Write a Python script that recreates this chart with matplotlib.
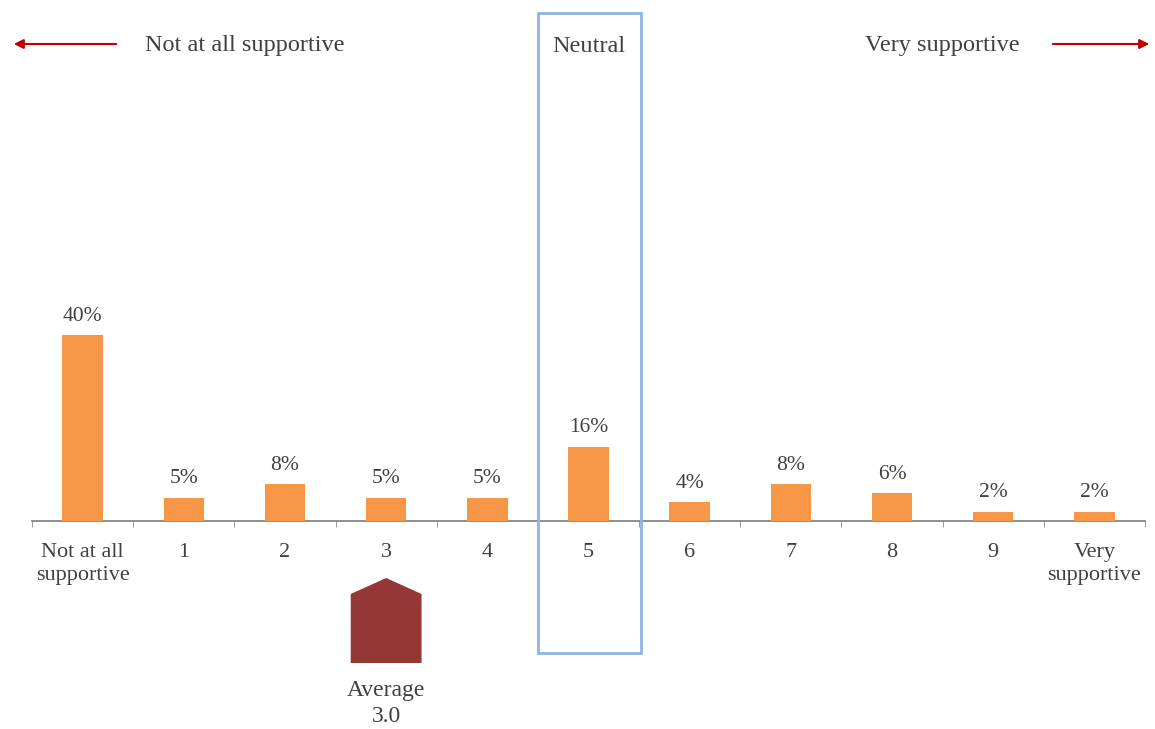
import matplotlib
matplotlib.use("Agg")
import matplotlib.pyplot as plt
from matplotlib.patches import Polygon, Rectangle

categories = ["Not at all\nsupportive", "1", "2", "3", "4", "5", "6", "7", "8", "9", "Very\nsupportive"]
values = [40, 5, 8, 5, 5, 16, 4, 8, 6, 2, 2]
value_labels = ["40%", "5%", "8%", "5%", "5%", "16%", "4%", "8%", "6%", "2%", "2%"]
average = 3.0
neutral_index = 5
header_left = "Not at all supportive"
header_mid = "Neutral"
header_right = "Very supportive"

plt.rcParams['font.family'] = ['Liberation Serif', 'DejaVu Serif']
TXT = '#404040'

fig = plt.figure(figsize=(11.55, 7.29), dpi=100)
W, H = 1155, 729
ax = fig.add_axes([32 / W, 0, 1113 / W, 1])
ppu = 4.65
ax.set_xlim(-0.5, 10.5)
ax.set_ylim(-(H - 521) / ppu, 521 / ppu)

x = list(range(len(categories)))
ax.bar(x, values, width=0.4, color='#f79646', zorder=3)
for xi, v, lab in zip(x, values, value_labels):
    ax.text(xi, v + 2.0, lab, ha='center', va='bottom', fontsize=15.5, color=TXT)

for s in ['top', 'right', 'left']:
    ax.spines[s].set_visible(False)
ax.spines['bottom'].set_position(('data', 0))
ax.spines['bottom'].set_color('#868686')
ax.spines['bottom'].set_linewidth(1.3)
ax.set_yticks([])
ax.set_xticks(x)
ax.set_xticklabels(categories, fontsize=16, color=TXT, linespacing=1.3)
ax.tick_params(axis='x', which='major', length=0, pad=16)
ax.set_xticks([i - 0.5 for i in range(len(categories) + 1)], minor=True)
ax.tick_params(axis='x', which='minor', length=4, color='#868686', direction='out')
ax.set_facecolor('white')
ax.patch.set_alpha(0)

def py(p):
    return (521 - p) / ppu

def px(p):
    return (p - 32) / 101.18 - 0.5

# neutral box
ax.add_patch(Rectangle((neutral_index - 0.5, py(653)), 1.02, py(13) - py(653),
                       fill=False, edgecolor='#8eb4e3', linewidth=2, clip_on=False, zorder=4))

# average marker
hw = 0.35
ax.add_patch(Polygon([(average - hw, py(663)), (average + hw, py(663)), (average + hw, py(594)),
                      (average, py(578)), (average - hw, py(594))],
                     closed=True, facecolor='#953735', edgecolor='none', clip_on=False))
ax.text(average, py(680), "Average\n" + f"{average:.1f}", ha='center', va='top', fontsize=17,
        color=TXT, linespacing=1.3)

# headers
hy = py(46)
ax.text(px(245), hy, header_left, ha='center', va='center', fontsize=17.5, color=TXT)
ax.text(neutral_index, hy, header_mid, ha='center', va='center', fontsize=17.5, color=TXT)
ax.text(px(942), hy, header_right, ha='center', va='center', fontsize=17.5, color=TXT)
arrow = dict(arrowstyle='-|>', color='#c00000', lw=1.5, mutation_scale=14)
ax.annotate('', xy=(px(11), py(44)), xytext=(px(119), py(44)), arrowprops=arrow, annotation_clip=False)
ax.annotate('', xy=(px(1152), py(44)), xytext=(px(1050), py(44)), arrowprops=arrow, annotation_clip=False)

fig.savefig('out.png', dpi=100, facecolor='white')
